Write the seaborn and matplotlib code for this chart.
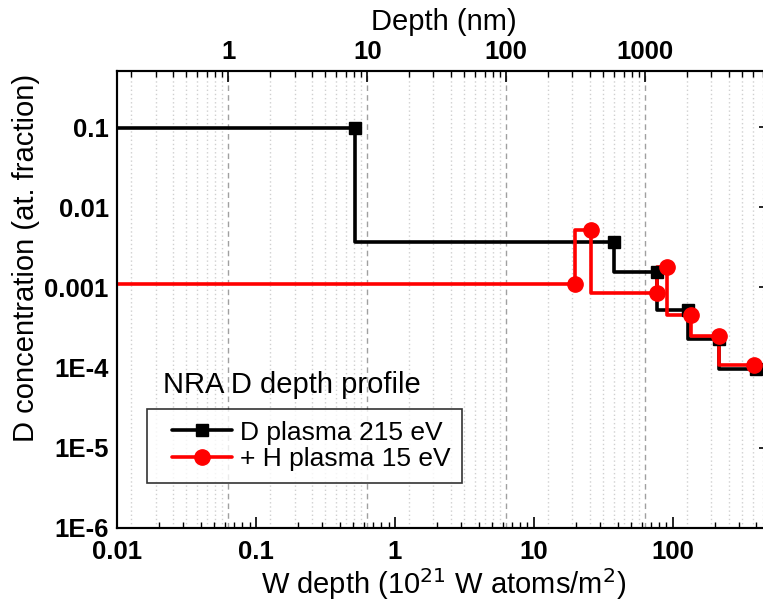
import numpy as np
import pandas as pd
import seaborn as sns
import matplotlib.pyplot as plt
from matplotlib.lines import Line2D
from matplotlib.legend_handler import HandlerLine2D
from matplotlib.ticker import LogLocator, FixedLocator, FixedFormatter, NullFormatter

# depth in 1e21 W atoms/m2, D concentration in at. fraction
black_x = [0.52, 37.6, 76.7, 128, 215, 395]
black_y = [0.096, 0.0037, 0.00156, 0.00052, 0.00023, 0.000097]
black_err = [0, 0, 0, 0.00006, 0.00003, 0.000008]

red_x = [19.7, 25.6, 76.5, 90.2, 136, 215, 383]
red_y = [0.0011, 0.0052, 0.00086, 0.00179, 0.00045, 0.00025, 0.000107]
red_err = [0, 0, 0, 0.0002, 0.00005, 0.00003, 0.000008]

x_start = 0.01
nm_per_unit = 1 / 0.0632  # 1e21 W atoms/m2 -> nm

label_black = "D plasma 215 eV"
label_red = "+ H plasma 15 eV"

x_ticks = [0.01, 0.1, 1, 10, 100]
x_labels = ["0.01", "0.1", "1", "10", "100"]
y_ticks = [1e-6, 1e-5, 1e-4, 1e-3, 1e-2, 1e-1]
y_labels = ["1E-6", "1E-5", "1E-4", "0.001", "0.01", "0.1"]
top_ticks = [1, 10, 100, 1000]
top_labels = ["1", "10", "100", "1000"]

sns.set_style("white")
plt.rcParams['font.family'] = ['Liberation Sans', 'DejaVu Sans']
for k in ['text.color', 'axes.labelcolor', 'xtick.color', 'ytick.color']:
    plt.rcParams[k] = 'black'

TICK_FS = 18.5
LABEL_FS = 21

fig = plt.figure(figsize=(7.63, 6.03), dpi=100)
ax = fig.add_axes([0.1533, 0.1244, 0.8558, 0.7579])
ax.set_xscale('log')
ax.set_yscale('log')
xlim = (0.01, 500)
ax.set_xlim(*xlim)
ax.set_ylim(1e-6, 0.5)

# top axis (nm), its grid sits behind the data
top = ax.twiny()
top.set_xscale('log')
top.set_xlim(xlim[0] * nm_per_unit, xlim[1] * nm_per_unit)
top.set_zorder(0)
ax.set_zorder(1)
ax.patch.set_visible(False)
top.xaxis.set_major_locator(FixedLocator(top_ticks))
top.xaxis.set_major_formatter(FixedFormatter(top_labels))
top.xaxis.set_minor_locator(LogLocator(base=10, subs=np.arange(2, 10)))
top.xaxis.set_minor_formatter(NullFormatter())
top.grid(True, which='major', axis='x', color='#a0a0a0', ls=(0, (4, 3)), lw=1.0)
top.grid(True, which='minor', axis='x', color='#d0d0d0', ls=(0, (1, 2)), lw=1.0)
top.tick_params(axis='x', which='major', direction='in', length=8, width=1.2,
                labelsize=TICK_FS, pad=5)
top.tick_params(axis='x', which='minor', direction='in', length=4, width=1.0)
for t in top.get_xticklabels():
    t.set_fontweight('bold')
top.set_xlabel("Depth (nm)", fontsize=LABEL_FS, labelpad=7)
top.tick_params(axis='y', left=False, right=False, labelleft=False, labelright=False)

for xs, ys, col in [(black_x, black_y, 'black'), (red_x, red_y, 'red')]:
    df = pd.DataFrame({'x': [x_start] + xs, 'y': [ys[0]] + ys})
    sns.lineplot(data=df, x='x', y='y', ax=ax, color=col, lw=2.6,
                 drawstyle='steps-pre', sort=False, estimator=None, legend=False)

ax.errorbar(black_x, black_y, yerr=black_err, fmt='s', color='black', ms=9,
            capsize=4, elinewidth=1.2, capthick=1.2, zorder=3)
ax.errorbar(red_x, red_y, yerr=red_err, fmt='o', color='red', ms=11,
            capsize=4, elinewidth=1.2, capthick=1.2, zorder=4)

ax.xaxis.set_major_locator(FixedLocator(x_ticks))
ax.xaxis.set_major_formatter(FixedFormatter(x_labels))
ax.xaxis.set_minor_locator(LogLocator(base=10, subs=np.arange(2, 10)))
ax.xaxis.set_minor_formatter(NullFormatter())
ax.yaxis.set_major_locator(FixedLocator(y_ticks))
ax.yaxis.set_major_formatter(FixedFormatter(y_labels))
ax.yaxis.set_minor_locator(LogLocator(base=10, subs=np.arange(2, 10), numticks=20))
ax.yaxis.set_minor_formatter(NullFormatter())
ax.tick_params(which='major', direction='in', length=8, width=1.2, labelsize=TICK_FS,
               top=False, right=True)
ax.tick_params(which='minor', direction='in', length=4, width=1.0, top=False, right=True)
ax.tick_params(axis='x', pad=9)
ax.tick_params(axis='y', pad=6)
for t in ax.get_xticklabels() + ax.get_yticklabels():
    t.set_fontweight('bold')

ax.set_xlabel("W depth (10$^{21}$ W atoms/m$^{2}$)", fontsize=LABEL_FS, labelpad=1)
ax.set_ylabel("D concentration (at. fraction)", fontsize=LABEL_FS, labelpad=5)
ax.yaxis.set_label_coords(-0.118, 0.59)

for a in (ax, top):
    for s in a.spines.values():
        s.set_linewidth(1.5)
        s.set_color('black')

handles = [
    Line2D([], [], color='black', lw=2.6, marker='s', ms=9),
    Line2D([], [], color='red', lw=2.6, marker='o', ms=11),
]
leg = ax.legend(handles, [label_black, label_red], loc='lower left',
                bbox_to_anchor=(0.046, 0.098), borderaxespad=0, fontsize=19,
                frameon=True, fancybox=False, edgecolor='black',
                handlelength=2.77, handletextpad=0.3, labelspacing=0.1,
                borderpad=0.45, handler_map={Line2D: HandlerLine2D(xpad=0.5)})
leg.get_frame().set_linewidth(1.2)
ax.text(0.07, 0.313, "NRA D depth profile", transform=ax.transAxes,
        fontsize=21, va='center', ha='left')

fig.savefig("out.png", dpi=100)
